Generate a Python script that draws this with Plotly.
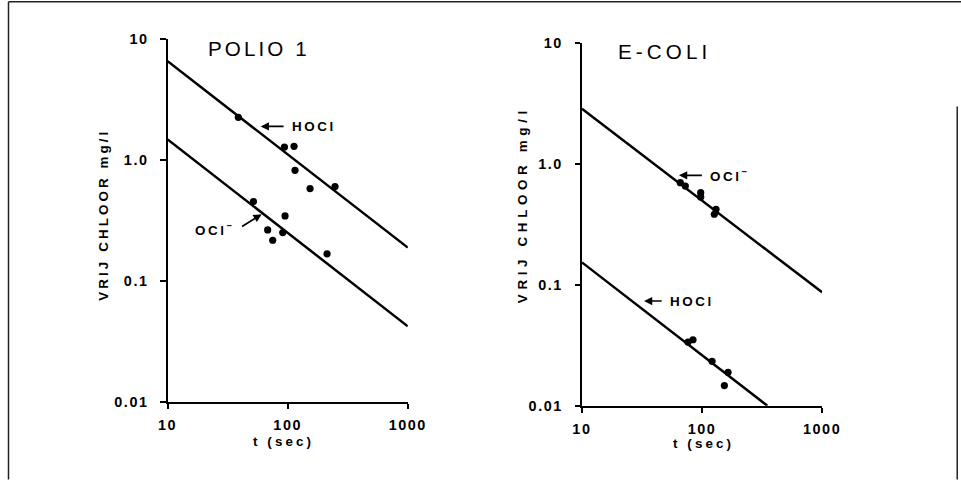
import plotly.graph_objects as go

# ---------------- data: POLIO 1 ----------------
polio_hocl_t = [38.8, 93.9, 112.9, 115, 153.5, 247.6]
polio_hocl_c = [2.24, 1.27, 1.29, 0.816, 0.577, 0.599]
polio_ocl_t = [51.8, 95, 68.1, 90.9, 75, 212.6]
polio_ocl_c = [0.451, 0.343, 0.263, 0.25, 0.216, 0.167]
polio_hocl_fit_t = [10, 1000]
polio_hocl_fit_c = [6.5, 0.188]
polio_ocl_fit_t = [10, 1000]
polio_ocl_fit_c = [1.47, 0.042]

# ---------------- data: E-COLI ----------------
ecoli_ocl_t = [65.9, 72.6, 97.5, 97.5, 130.8, 126.6]
ecoli_ocl_c = [0.697, 0.653, 0.576, 0.531, 0.42, 0.382]
ecoli_hocl_t = [76.4, 84.1, 121.2, 164.7, 153.5]
ecoli_hocl_c = [0.0336, 0.0351, 0.0233, 0.0189, 0.0147]
ecoli_ocl_fit_t = [10, 1000]
ecoli_ocl_fit_c = [2.84, 0.0865]
ecoli_hocl_fit_t = [10, 350]
ecoli_hocl_fit_c = [0.153, 0.01]

# ---------------- labels ----------------
x_tickvals = [10, 100, 1000]
x_ticktext = ["10", "100", "1000"]
y_tickvals = [0.01, 0.1, 1, 10]
y_ticktext = ["0.01", "0.1", "1.0", "10"]
panel_titles = ["POLIO 1", "E-COLI"]
x_title = "t (sec)"
y_title = "VRIJ CHLOOR mg/l"
label_hocl = "HOCl"
label_ocl = "OCl<sup>−</sup>"

FONT = "Liberation Sans"

# layout is specified in target-picture pixels (961 x 481); the page is shown
# slightly shrunk and offset, so the figure is sized to compensate.
SCALE = 0.97
OX, OY = 8.5, 8.3
W = round(961 / SCALE)
H = round(481 / SCALE)


def px(x):
    return ((x - OX) / SCALE) / W


def py(y):
    return 1 - ((y - OY) / SCALE) / H


def fs(size):
    return size / SCALE


def spaced(t, ls):
    return f'<span style="letter-spacing:{ls / SCALE:.2f}px">{t}</span>'


fig = go.Figure()

line_style = dict(color="black", width=2.4 / SCALE)
marker_style = dict(color="black", size=7 / SCALE)

# left panel
fig.add_trace(go.Scatter(x=polio_hocl_fit_t, y=polio_hocl_fit_c, mode="lines",
                         line=line_style, xaxis="x", yaxis="y", showlegend=False))
fig.add_trace(go.Scatter(x=polio_ocl_fit_t, y=polio_ocl_fit_c, mode="lines",
                         line=line_style, xaxis="x", yaxis="y", showlegend=False))
fig.add_trace(go.Scatter(x=polio_hocl_t, y=polio_hocl_c, mode="markers",
                         marker=marker_style, xaxis="x", yaxis="y", showlegend=False))
fig.add_trace(go.Scatter(x=polio_ocl_t, y=polio_ocl_c, mode="markers",
                         marker=marker_style, xaxis="x", yaxis="y", showlegend=False))
# right panel
fig.add_trace(go.Scatter(x=ecoli_ocl_fit_t, y=ecoli_ocl_fit_c, mode="lines",
                         line=line_style, xaxis="x2", yaxis="y2", showlegend=False))
fig.add_trace(go.Scatter(x=ecoli_hocl_fit_t, y=ecoli_hocl_fit_c, mode="lines",
                         line=line_style, xaxis="x2", yaxis="y2", showlegend=False))
fig.add_trace(go.Scatter(x=ecoli_ocl_t, y=ecoli_ocl_c, mode="markers",
                         marker=marker_style, xaxis="x2", yaxis="y2", showlegend=False))
fig.add_trace(go.Scatter(x=ecoli_hocl_t, y=ecoli_hocl_c, mode="markers",
                         marker=marker_style, xaxis="x2", yaxis="y2", showlegend=False))

tickfont = dict(family=FONT, size=fs(14), color="black", weight="bold")
xt = [spaced(t, 1.5) for t in x_ticktext]
yt = [spaced(t, 1.5) for t in y_ticktext]

xax = dict(type="log", range=[1, 3], showgrid=False, zeroline=False,
           showline=True, linewidth=2 / SCALE, linecolor="black",
           ticks="outside", ticklen=5 / SCALE, tickwidth=2 / SCALE, tickcolor="black",
           tickvals=x_tickvals, ticktext=xt, tickfont=tickfont,
           ticklabelstandoff=4, fixedrange=True)
yax = dict(type="log", range=[-2, 1], showgrid=False, zeroline=False,
           showline=True, linewidth=2 / SCALE, linecolor="black",
           ticks="outside", ticklen=5 / SCALE, tickwidth=2 / SCALE, tickcolor="black",
           tickvals=y_tickvals, ticktext=yt, tickfont=tickfont,
           ticklabelstandoff=9, fixedrange=True)

fig.update_layout(
    width=W, height=H, autosize=False,
    margin=dict(l=0, r=0, t=0, b=0),
    paper_bgcolor="white", plot_bgcolor="white",
    xaxis=dict(xax, domain=[px(166), px(406)], anchor="y"),
    yaxis=dict(yax, domain=[py(403), py(39)], anchor="x"),
    xaxis2=dict(xax, domain=[px(580), px(820)], anchor="y2"),
    yaxis2=dict(yax, domain=[py(407), py(43)], anchor="x2"),
)

annotations = []


def text_ann(text, x, y, size, xanchor="center", angle=0, ls=2, weight="bold"):
    annotations.append(dict(
        text=spaced(text, ls), x=px(x), y=py(y), xref="paper", yref="paper",
        xanchor=xanchor, yanchor="middle", showarrow=False, textangle=angle,
        font=dict(family=FONT, size=fs(size), color="black", weight=weight)))


def arrow_label(text, hx, hy, tx, ty, xanchor):
    # arrow head at (hx, hy); label anchored at the arrow tail (tx, ty)
    annotations.append(dict(
        text=spaced(text, 2.5), x=px(hx), y=py(hy), xref="paper", yref="paper",
        ax=(tx - hx) / SCALE, ay=(ty - hy) / SCALE, xanchor=xanchor, yanchor="middle",
        showarrow=True, arrowhead=2, arrowsize=1, arrowwidth=1.6 / SCALE,
        arrowcolor="black", standoff=0, startstandoff=6,
        font=dict(family=FONT, size=fs(13), color="black", weight="bold")))


# titles
text_ann(panel_titles[0], 204, 49, 20, xanchor="left", ls=3, weight="normal")
text_ann(panel_titles[1], 614, 52, 20, xanchor="left", ls=4, weight="normal")
# axis titles
text_ann(x_title, 282, 443, 13, ls=3)
text_ann(x_title, 701, 445, 13, ls=3)
text_ann(y_title, 102, 216, 13, angle=-90, ls=3)
text_ann(y_title, 520, 205, 13, angle=-90, ls=4.5)
# series labels with arrows
arrow_label(label_hocl, 259, 127, 287, 127, "left")
arrow_label(label_ocl, 260, 215, 236, 230, "right")
arrow_label(label_ocl, 677, 176, 705, 176, "left")
arrow_label(label_hocl, 642, 302, 665, 302, "left")

fig.update_layout(annotations=annotations)

# scan frame lines
frame = dict(color="#222", width=1.5)
fig.update_layout(shapes=[
    dict(type="line", xref="paper", yref="paper", x0=px(7), x1=px(961), y0=py(2), y1=py(2), line=frame),
    dict(type="line", xref="paper", yref="paper", x0=px(7), x1=px(7), y0=py(2), y1=py(481), line=frame),
    dict(type="line", xref="paper", yref="paper", x0=px(955), x1=px(955), y0=py(107), y1=py(481), line=frame),
])

fig.write_html(
    "out.html",
    config={"displayModeBar": False},
    post_script="document.body.style.margin='0';document.body.style.padding='0';"
                "document.body.style.overflow='hidden';"
                "document.documentElement.style.overflow='hidden';",
)
